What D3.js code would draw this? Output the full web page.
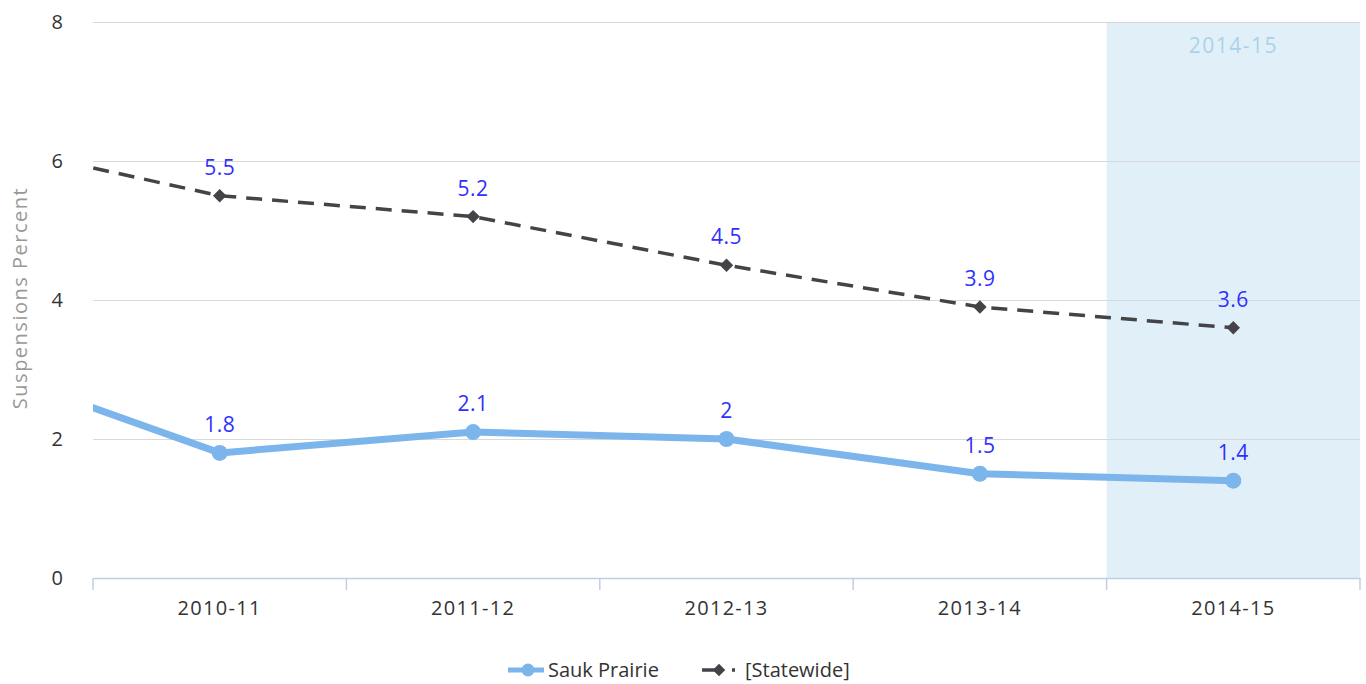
<!DOCTYPE html>
<html>
<head>
<meta charset="utf-8">
<script src="https://d3js.org/d3.v7.min.js"></script>
<style>
  body { margin: 0; background: #fff; }
  text { font-family: "Open Sans", "DejaVu Sans", sans-serif; }
</style>
</head>
<body>
<div id="chart"></div>
<script>
    var svgWidth = 1366;
    var svgHeight = 684;

    var margin = { top: 22, right: 6, bottom: 106, left: 93 };
    var width = svgWidth - margin.left - margin.right;
    var height = svgHeight - margin.top - margin.bottom;

    // categories (the first one sits off the left edge and is clipped, like the original)
    var years = ["2010-11", "2011-12", "2012-13", "2013-14", "2014-15"];
    var hiddenYear = "2009-10";
    var saukValues = [1.8, 2.1, 2.0, 1.5, 1.4];
    var saukHidden = 3.1;
    var stateValues = [5.5, 5.2, 4.5, 3.9, 3.6];
    var stateHidden = 6.3;
    var yTicks = [0, 2, 4, 6, 8];
    var highlightYear = "2014-15";

    var svg = d3.select("#chart")
      .append("svg")
      .attr("width", svgWidth)
      .attr("height", svgHeight);

    var chartGroup = svg.append("g")
      .attr("transform", `translate(${margin.left}, ${margin.top})`);

    // scales
    var xBand = d3.scaleBand().domain(years).range([0, width]);
    var xIndex = d3.scaleLinear().domain([0, years.length]).range([0, width]);
    var yLinearScale = d3.scaleLinear().domain([0, 8]).range([height, 0]);

    function xPos(i) { return xIndex(i + 0.5); }

    // highlighted band
    chartGroup.append("rect")
      .attr("x", xBand(highlightYear))
      .attr("y", 0)
      .attr("width", xBand.bandwidth())
      .attr("height", height)
      .attr("fill", "#e1f0f8");

    chartGroup.append("text")
      .attr("x", xBand(highlightYear) + xBand.bandwidth() / 2)
      .attr("y", 31)
      .attr("text-anchor", "middle")
      .attr("font-size", "21px")
      .attr("letter-spacing", "1.5px")
      .attr("fill", "#a9d3ea")
      .text(highlightYear);

    // y gridlines + labels
    var leftAxis = d3.axisLeft(yLinearScale)
      .tickValues(yTicks)
      .tickSize(-width)
      .tickPadding(30)
      .tickFormat(d3.format("d"));

    var yAxis = chartGroup.append("g").call(leftAxis);
    yAxis.select(".domain").remove();
    yAxis.selectAll(".tick line").attr("stroke", "#d8d8d8");
    yAxis.selectAll(".tick text")
      .attr("font-size", "20px")
      .attr("fill", "#333");

    // x axis
    var bottomAxis = d3.axisBottom(xBand).tickSize(0).tickPadding(23);
    var xAxis = chartGroup.append("g")
      .attr("transform", `translate(0, ${height})`)
      .call(bottomAxis);
    xAxis.select(".domain").attr("stroke", "#c0d0e0").attr("stroke-width", 1.5);
    xAxis.selectAll(".tick text")
      .attr("font-size", "20px")
      .attr("letter-spacing", "1.3px")
      .attr("fill", "#333");

    // tick marks at band edges
    var edges = d3.range(years.length + 1);
    xAxis.selectAll(".edge")
      .data(edges)
      .enter()
      .append("line")
      .attr("class", "edge")
      .attr("x1", d => xIndex(d))
      .attr("x2", d => xIndex(d))
      .attr("y1", 0)
      .attr("y2", 12)
      .attr("stroke", "#c0d0e0")
      .attr("stroke-width", 1.5);

    // y axis title
    svg.append("text")
      .attr("transform", `translate(27, 298) rotate(-90)`)
      .attr("text-anchor", "middle")
      .attr("font-size", "20px")
      .attr("letter-spacing", "1.5px")
      .attr("fill", "#999")
      .text("Suspensions Percent");

    // clip so the hidden first point only shows as the line coming in
    svg.append("defs").append("clipPath")
      .attr("id", "plotClip")
      .append("rect")
      .attr("x", 0)
      .attr("y", -20)
      .attr("width", width)
      .attr("height", height + 40);

    var saukData = [{ i: -1, v: saukHidden }].concat(saukValues.map((v, i) => ({ i: i, v: v })));
    var stateData = [{ i: -1, v: stateHidden }].concat(stateValues.map((v, i) => ({ i: i, v: v })));

    var lineGen = d3.line()
      .x(d => xPos(d.i))
      .y(d => yLinearScale(d.v));

    var lines = chartGroup.append("g").attr("clip-path", "url(#plotClip)");

    lines.append("path")
      .datum(stateData)
      .attr("d", lineGen)
      .attr("fill", "none")
      .attr("stroke", "#434348")
      .attr("stroke-width", 3.5)
      .attr("stroke-dasharray", "16,10");

    lines.append("path")
      .datum(saukData)
      .attr("d", lineGen)
      .attr("fill", "none")
      .attr("stroke", "#7cb5ec")
      .attr("stroke-width", 7)
      .attr("stroke-linejoin", "round");

    // markers
    chartGroup.selectAll(".diamond")
      .data(stateData.filter(d => d.i >= 0))
      .enter()
      .append("path")
      .attr("class", "diamond")
      .attr("d", d3.symbol().type(d3.symbolDiamond2).size(115))
      .attr("transform", d => `translate(${xPos(d.i)}, ${yLinearScale(d.v)})`)
      .attr("fill", "#434348");

    chartGroup.selectAll(".dot")
      .data(saukData.filter(d => d.i >= 0))
      .enter()
      .append("circle")
      .attr("class", "dot")
      .attr("cx", d => xPos(d.i))
      .attr("cy", d => yLinearScale(d.v))
      .attr("r", 8)
      .attr("fill", "#7cb5ec");

    // data labels
    var allLabels = stateData.concat(saukData).filter(d => d.i >= 0);
    chartGroup.selectAll(".dlabel")
      .data(allLabels)
      .enter()
      .append("text")
      .attr("class", "dlabel")
      .attr("x", d => xPos(d.i))
      .attr("y", d => yLinearScale(d.v) - 21)
      .attr("text-anchor", "middle")
      .attr("font-size", "21px")
      .attr("letter-spacing", "0.5px")
      .attr("fill", "#3030ff")
      .text(d => d3.format("~g")(d.v));

    // legend
    var legend = svg.append("g").attr("transform", "translate(0, 670)");

    legend.append("line")
      .attr("x1", 508).attr("x2", 544)
      .attr("stroke", "#7cb5ec").attr("stroke-width", 5);
    legend.append("circle")
      .attr("cx", 528).attr("r", 6.5).attr("fill", "#7cb5ec");
    legend.append("text")
      .attr("x", 548).attr("y", 7)
      .attr("font-size", "20px").attr("fill", "#333")
      .text("Sauk Prairie");

    legend.append("line")
      .attr("x1", 702).attr("x2", 736)
      .attr("stroke", "#434348").attr("stroke-width", 3.5)
      .attr("stroke-dasharray", "20,10,3");
    legend.append("path")
      .attr("d", d3.symbol().type(d3.symbolDiamond2).size(100))
      .attr("transform", "translate(719, 0)")
      .attr("fill", "#434348");
    legend.append("text")
      .attr("x", 745).attr("y", 7)
      .attr("font-size", "20px").attr("fill", "#333")
      .text("[Statewide]");
</script>
</body>
</html>
